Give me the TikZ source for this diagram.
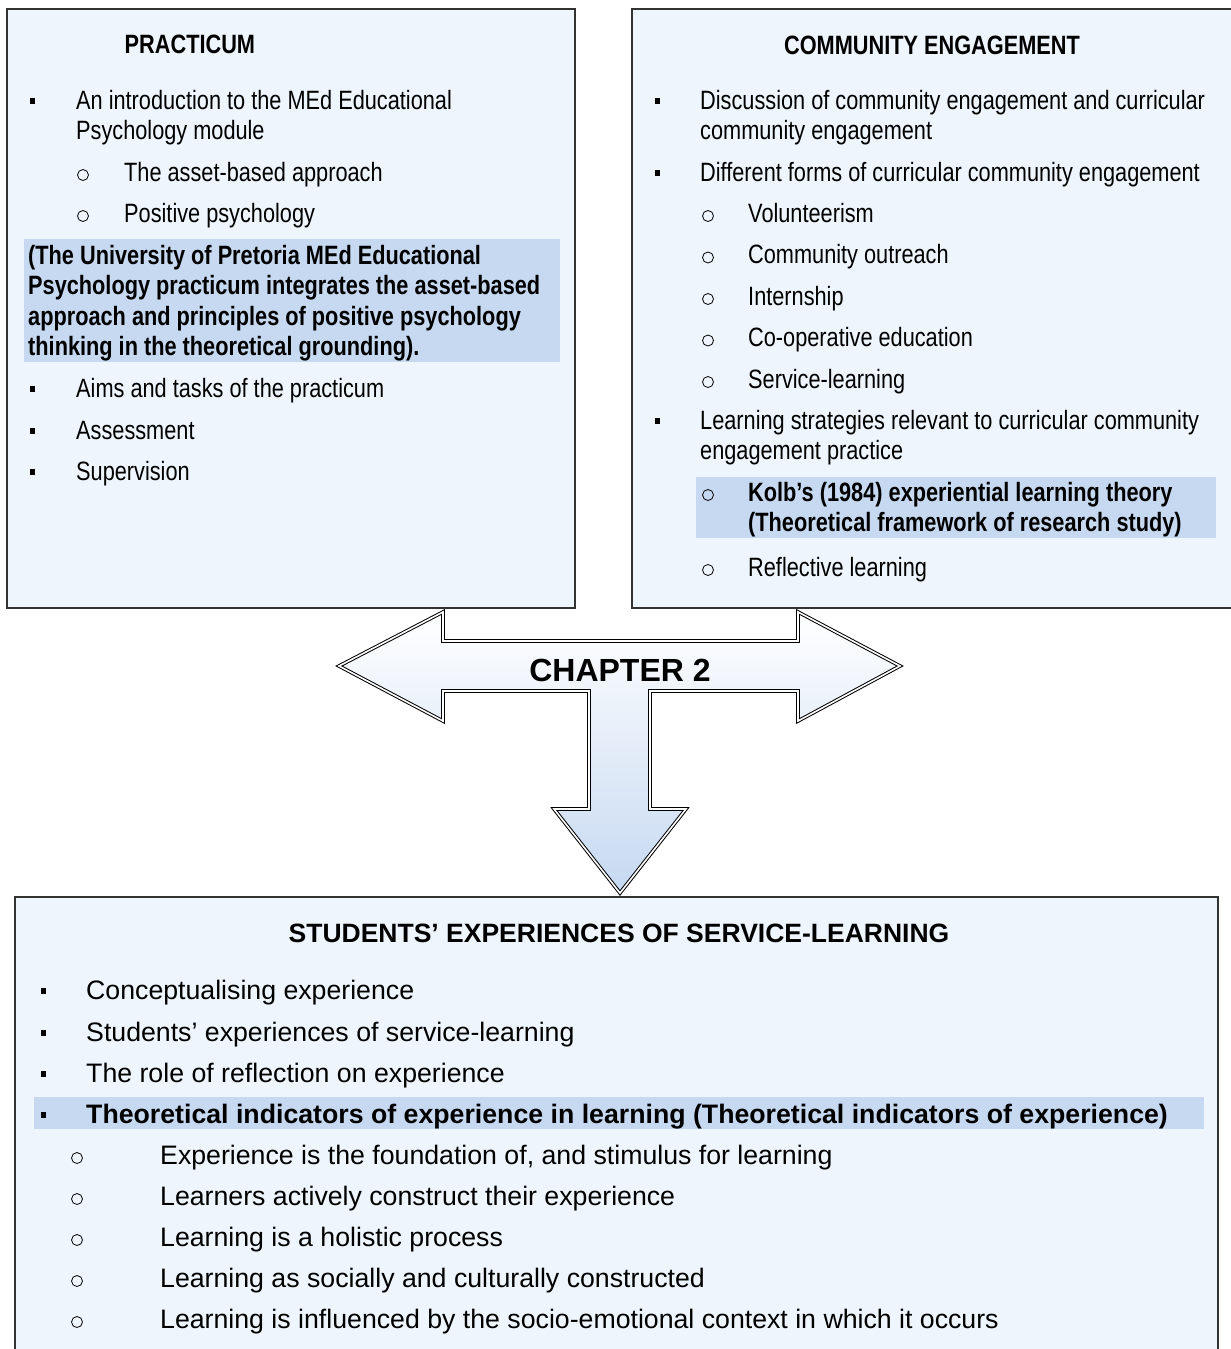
\documentclass[tikz,border=0pt]{standalone}
\usepackage{fontspec}
\setmainfont{Liberation Sans}
\newfontfamily\narrowfont[FakeStretch=0.82]{Liberation Sans}
\definecolor{boxfill}{RGB}{238,245,253}
\definecolor{hilite}{RGB}{198,217,241}

\begin{document}
\begin{tikzpicture}[x=1pt,y=-1pt]
          \tikzset{box/.style={draw=black!80,line width=1.1pt,fill=boxfill},
                   sq/.style={fill=black,inner sep=0pt,minimum width=5pt,minimum height=5.5pt},
                   circ/.style={circle,draw=black,line width=0.8pt,inner sep=0pt,minimum size=11pt},
                   nar/.style={inner sep=0pt,anchor=base west,font=\narrowfont\fontsize{26.5}{30.5}\selectfont},
                   narbold/.style={nar,font=\narrowfont\bfseries\fontsize{26.5}{30.5}\selectfont},
                   reg/.style={inner sep=0pt,anchor=base west,font=\fontsize{26.7}{30.5}\selectfont},
                   regbold/.style={reg,font=\bfseries\fontsize{26.7}{30.5}\selectfont}};
          \useasboundingbox (0,0) rectangle (1231,1349);

          % boxes
          \path[box] (7,9) rectangle (575,608);
          \path[box] (632,9) rectangle (1240,608);
          \path[box] (15,897) rectangle (1218,1365);

          % highlighted parts
          \fill[hilite] (24,239) rectangle (560,362);
          \fill[hilite] (696,477) rectangle (1216,538);
          \fill[hilite] (34,1097) rectangle (1204,1129);

          % practicum
          \node[narbold] (prac) at (124.5,53){PRACTICUM};
          \node[sq] (prac-s1) at (32,101){};
          \node[nar] (prac-t1) at (76,109){An introduction to the MEd Educational};
          \node[nar] (prac-t1b) at (76,139.5){Psychology module};
          \node[circ] (prac-o1) at (83,175){};
          \node[nar] (prac-u1) at (124,181){The asset-based approach};
          \node[circ] (prac-o2) at (83,216){};
          \node[nar] (prac-u2) at (124,222){Positive psychology};
          \foreach \t [count=\i] in {{(The University of Pretoria MEd Educational},{Psychology practicum integrates the asset-based},{approach and principles of positive psychology},{thinking in the theoretical grounding).}}{
            \node[narbold] (prac-up\i) at (28,233.5+30.5*\i){\t};
          }
          \node[sq] (prac-s2) at (32,389){};
          \node[nar] (prac-t2) at (76,397){Aims and tasks of the practicum};
          \node[sq] (prac-s3) at (32,431){};
          \node[nar] (prac-t3) at (76,439){Assessment};
          \node[sq] (prac-s4) at (32,472){};
          \node[nar] (prac-t4) at (76,480){Supervision};

          % community engagement
          \node[narbold,anchor=base] (ce) at (932,54){COMMUNITY ENGAGEMENT};
          \node[sq] (ce-s1) at (657,101){};
          \node[nar] (ce-t1) at (700,109){Discussion of community engagement and curricular};
          \node[nar] (ce-t1b) at (700,139.5){community engagement};
          \node[sq] (ce-s2) at (657,173){};
          \node[nar] (ce-t2) at (700,181){Different forms of curricular community engagement};
          \foreach \t [count=\i] in {Volunteerism,Community outreach,Internship,Co-operative education,Service-learning}{
            \node[circ] (ce-o\i) at (708,174.5+41.5*\i){};
            \node[nar] (ce-u\i) at (748,180.5+41.5*\i){\t};
          }
          \node[sq] (ce-s3) at (657,421){};
          \node[nar] (ce-t3) at (700,429){Learning strategies relevant to curricular community};
          \node[nar] (ce-t3b) at (700,459.5){engagement practice};
          \node[circ] (ce-o6) at (708,495){};
          \node[narbold] (ce-kolb) at (748,501){Kolb’s (1984) experiential learning theory};
          \node[narbold] (ce-kolbb) at (748,531.5){(Theoretical framework of research study)};
          \node[circ] (ce-o7) at (708,570){};
          \node[nar] (ce-u7) at (748,576){Reflective learning};

          % arrow
          \shadedraw[top color=white,bottom color=hilite,draw=black,line width=1pt,double=white,double distance=1.6pt,line join=miter]
            (339,666) -- (443,612) -- (443,641) -- (798,641) -- (798,612) -- (900,666) -- (798,721)
            -- (798,691) -- (650,691) -- (650,809) -- (686,809) -- (620,893) -- (554,809) -- (589,809)
            -- (589,691) -- (443,691) -- (443,721) -- cycle;
          \node[inner sep=0pt,anchor=base,font=\bfseries\fontsize{32}{36}\selectfont] (chap) at (620,681.5){CHAPTER 2};

          % students' experiences
          \node[inner sep=0pt,anchor=base,font=\bfseries\fontsize{26.5}{30}\selectfont] (sel) at (619,942){STUDENTS’ EXPERIENCES OF SERVICE-LEARNING};
          \node[sq] (sel-s1) at (43,991){};
          \node[reg] (sel-t1) at (86,999){Conceptualising experience};
          \node[sq] (sel-s2) at (43,1033){};
          \node[reg] (sel-t2) at (86,1041){Students’ experiences of service-learning};
          \node[sq] (sel-s3) at (43,1074){};
          \node[reg] (sel-t3) at (86,1082){The role of reflection on experience};
          \node[sq] (sel-s4) at (43,1115){};
          \node[regbold] (sel-t4) at (86,1123){Theoretical indicators of experience in learning (Theoretical indicators of experience)};
          \foreach \t [count=\i] in {Experience is the foundation of{,} and stimulus for learning,Learners actively construct their experience,Learning is a holistic process,Learning as socially and culturally constructed,Learning is influenced by the socio-emotional context in which it occurs}{
            \node[circ] (sel-o\i) at (77,1117+41*\i){};
            \node[reg] (sel-u\i) at (160,1123+41*\i){\t};
          }
        \end{tikzpicture}
\end{document}
